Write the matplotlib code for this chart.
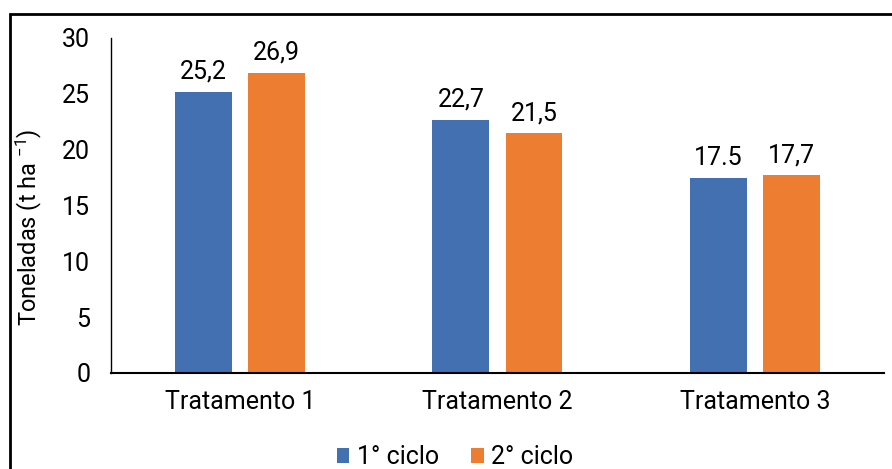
import matplotlib
matplotlib.use("Agg")
import numpy as np
import matplotlib.pyplot as plt
from matplotlib.patches import Rectangle

plt.rcParams['font.family'] = ['Roboto', 'DejaVu Sans']
plt.rcParams['mathtext.default'] = 'regular'

# data
categories = ['Tratamento 1', 'Tratamento 2', 'Tratamento 3']
ciclo1 = [25.2, 22.7, 17.5]
ciclo2 = [26.9, 21.5, 17.7]
labels1 = ['25,2', '22,7', '17.5']
labels2 = ['26,9', '21,5', '17,7']
series_names = ['1° ciclo', '2° ciclo']
colors = ['#4270B0', '#ED7D31']

fig = plt.figure(figsize=(8.92, 4.69), dpi=100)
ax = fig.add_axes([0.1244, 0.2047, 0.8666, 0.7143])

x = np.arange(len(categories))
width = 0.221
offset = 0.1417

b1 = ax.bar(x - offset, ciclo1, width, color=colors[0], label=series_names[0])
b2 = ax.bar(x + offset, ciclo2, width, color=colors[1], label=series_names[1])

# value labels above bars
for bars, labs in ((b1, labels1), (b2, labels2)):
    for rect, lab in zip(bars, labs):
        ax.annotate(lab, (rect.get_x() + rect.get_width() / 2, rect.get_height()),
                    xytext=(0, 5.5), textcoords='offset points',
                    ha='center', va='bottom', fontsize=18)

ax.set_xlim(-0.5, 2.5)
ax.set_ylim(0, 30)
ax.set_yticks(range(0, 31, 5))
ax.set_xticks(x)
ax.set_xticklabels(categories)
ax.tick_params(axis='both', length=0, labelsize=18)
ax.tick_params(axis='y', pad=15)
ax.tick_params(axis='x', pad=12)

for side in ('top', 'right'):
    ax.spines[side].set_visible(False)
ax.spines['left'].set_linewidth(1.0)
ax.spines['bottom'].set_linewidth(1.5)

ax.set_ylabel('Toneladas (t ha $^{-1}$)', fontsize=17)
ax.yaxis.set_label_coords(-0.087, 0.436)

ax.legend(loc='lower center', bbox_to_anchor=(0.445, -0.355), ncol=2, frameon=False,
          fontsize=18, handlelength=0.5, handleheight=0.5, handletextpad=0.3,
          columnspacing=1.3)

# outer frame
fig.patches.append(Rectangle((0.011, -0.05), 1.2, 1.02, transform=fig.transFigure,
                             fill=False, edgecolor='black', linewidth=2))

plt.savefig('out.png', dpi=100)
